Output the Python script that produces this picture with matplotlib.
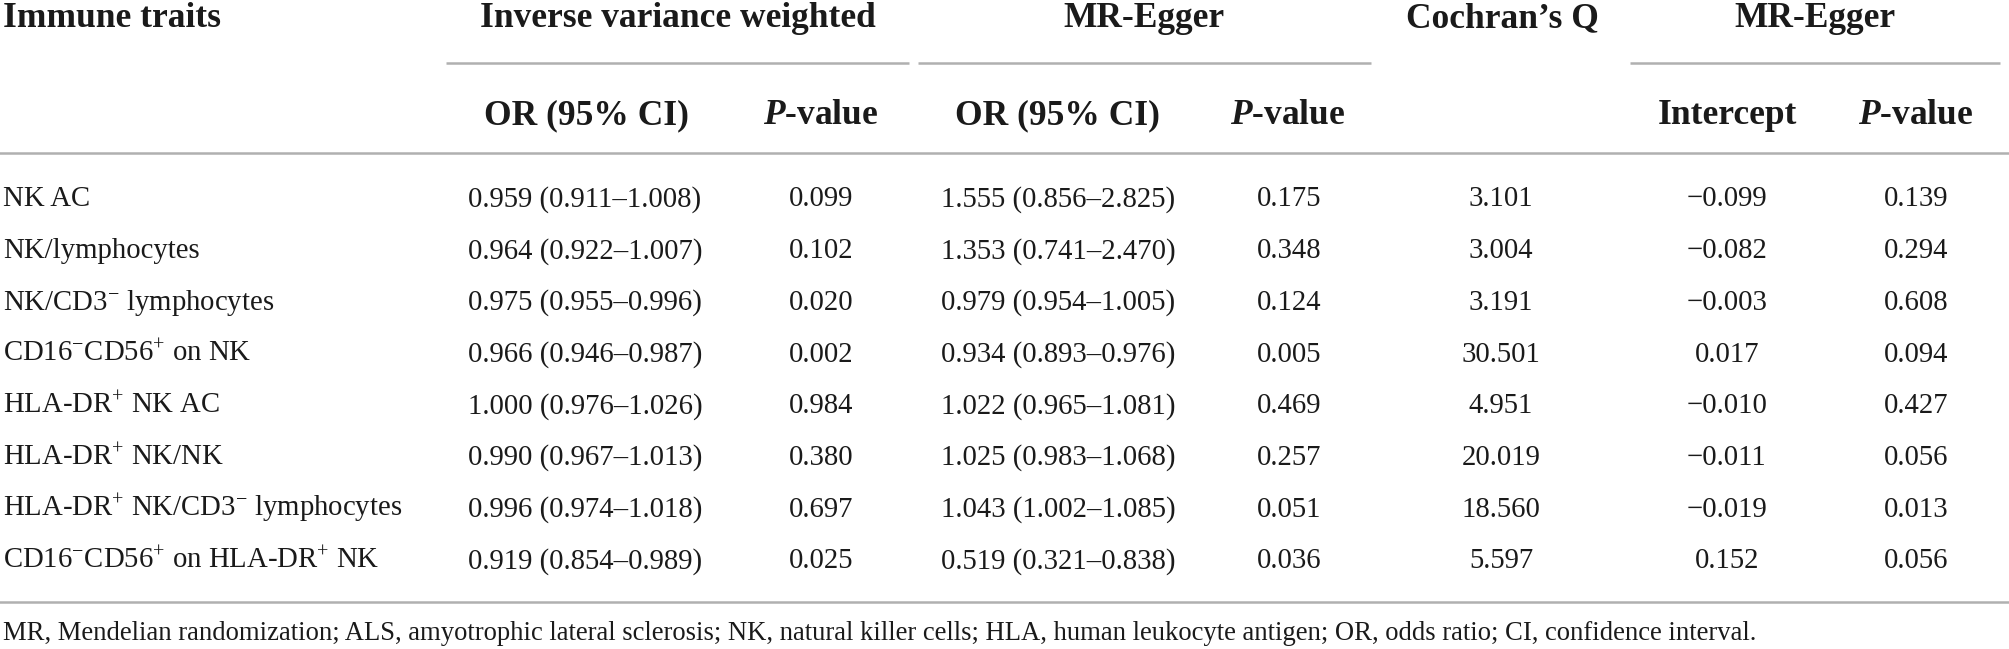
import matplotlib
matplotlib.use('Agg')
import matplotlib.pyplot as plt

plt.rcParams['font.family'] = ['Liberation Serif', 'DejaVu Serif']
plt.rcParams['mathtext.fontset'] = 'custom'
plt.rcParams['mathtext.rm'] = 'Liberation Serif'
plt.rcParams['mathtext.it'] = 'Liberation Serif:italic:bold'
plt.rcParams['mathtext.bf'] = 'Liberation Serif:bold'

# table data
traits = ['NK AC',
          'NK/lymphocytes',
          'NK/CD3$^{-}$ lymphocytes',
          'CD16$^{-}$CD56$^{+}$ on NK',
          'HLA-DR$^{+}$ NK AC',
          'HLA-DR$^{+}$ NK/NK',
          'HLA-DR$^{+}$ NK/CD3$^{-}$ lymphocytes',
          'CD16$^{-}$CD56$^{+}$ on HLA-DR$^{+}$ NK']
ivw_or = [0.959, 0.964, 0.975, 0.966, 1.000, 0.990, 0.996, 0.919]
ivw_lo = [0.911, 0.922, 0.955, 0.946, 0.976, 0.967, 0.974, 0.854]
ivw_hi = [1.008, 1.007, 0.996, 0.987, 1.026, 1.013, 1.018, 0.989]
ivw_p = [0.099, 0.102, 0.020, 0.002, 0.984, 0.380, 0.697, 0.025]
egger_or = [1.555, 1.353, 0.979, 0.934, 1.022, 1.025, 1.043, 0.519]
egger_lo = [0.856, 0.741, 0.954, 0.893, 0.965, 0.983, 1.002, 0.321]
egger_hi = [2.825, 2.470, 1.005, 0.976, 1.081, 1.068, 1.085, 0.838]
egger_p = [0.175, 0.348, 0.124, 0.005, 0.469, 0.257, 0.051, 0.036]
cochran_q = [3.101, 3.004, 3.191, 30.501, 4.951, 20.019, 18.560, 5.597]
intercept = [-0.099, -0.082, -0.003, 0.017, -0.010, -0.011, -0.019, 0.152]
intercept_p = [0.139, 0.294, 0.608, 0.094, 0.427, 0.056, 0.013, 0.056]

groups = ['Inverse variance weighted', 'MR-Egger', 'Cochran\u2019s Q', 'MR-Egger']
subheads = ['OR (95% CI)', '$\\mathit{P}$-value', 'OR (95% CI)',
            '$\\mathit{P}$-value', 'Intercept', '$\\mathit{P}$-value']

footnote = ('MR, Mendelian randomization; ALS, amyotrophic lateral sclerosis; '
            'NK, natural killer cells; HLA, human leukocyte antigen; '
            'OR, odds ratio; CI, confidence interval.')


def num(v):
    return f'{v:.3f}'.replace('-', '\u2212')


def ci(o, lo, hi):
    return f'{num(o)} ({num(lo)}\u2013{num(hi)})'


W, H = 2009, 649
fig = plt.figure(figsize=(W / 100, H / 100), dpi=100)
ax = fig.add_axes([0, 0, 1, 1])
ax.set_xlim(0, W)
ax.set_ylim(H, 0)
ax.axis('off')

txt = '#1a1a1a'
line_c = '#b0b0b0'
hs = 25.5   # header size
bs = 20.7   # body size

# header row 1
ax.text(3, 27, 'Immune traits', fontsize=hs, fontweight='bold', color=txt, va='baseline')
for x, s in zip([678, 1144, 1502, 1815], groups):
    ax.text(x, 27, s, fontsize=hs, fontweight='bold', color=txt, ha='center', va='baseline')

for x0, x1 in [(446, 909), (918, 1371), (1630, 2000)]:
    ax.plot([x0, x1], [63, 63], color=line_c, lw=1.8, solid_capstyle='butt')

# header row 2
for x, s in zip([586, 821, 1057, 1288, 1727, 1916], subheads):
    ax.text(x, 124, s, fontsize=hs, fontweight='bold', color=txt, ha='center', va='baseline')

ax.plot([0, W], [153, 153], color=line_c, lw=1.8)

# body
xs = [585, 821, 1058, 1289, 1501, 1727, 1916]
for i in range(len(traits)):
    y = 206.5 + 51.7 * i
    ax.text(3, y, traits[i], fontsize=bs, color=txt, va='baseline')
    cells = [ci(ivw_or[i], ivw_lo[i], ivw_hi[i]), num(ivw_p[i]),
             ci(egger_or[i], egger_lo[i], egger_hi[i]), num(egger_p[i]),
             num(cochran_q[i]), num(intercept[i]), num(intercept_p[i])]
    for x, s in zip(xs, cells):
        ax.text(x, y, s, fontsize=bs, color=txt, ha='center', va='baseline')

ax.plot([0, W], [602, 602], color=line_c, lw=1.8)

# footnote, sized to span the same width as in the source
fn = ax.text(3, 640, footnote, fontsize=15, color=txt, va='baseline')
r = fig.canvas.get_renderer()
w = fn.get_window_extent(renderer=r).width
fn.set_fontsize(15 * 1764 / w)

fig.savefig('out.png', dpi=100)
